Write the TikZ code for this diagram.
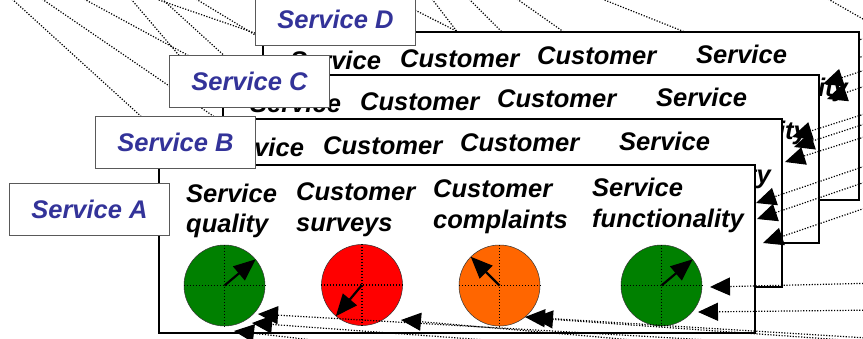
\documentclass[tikz,border=0pt]{standalone}
\usepackage{fontspec}
\setmainfont{Liberation Sans}
\usetikzlibrary{arrows.meta}
\definecolor{lblblue}{RGB}{51,51,153}
\definecolor{dgreen}{RGB}{0,128,0}
\definecolor{dred}{RGB}{255,0,0}
\definecolor{dorange}{RGB}{255,102,0}
\newcommand{\cardfont}{\fontsize{25.5}{30}\selectfont\bfseries\itshape}
% #1 = extra drop of the second text line (used on the cards behind)
\newcommand{\cardcontent}[1]{%
  \node[ctext] (sq1) at (186,202.5) {Service};
  \node[ctext] (sq2) at (186,{232+#1}) {quality};
  \node[ctext] (cs1) at (296,200.5) {Customer};
  \node[ctext] (cs2) at (296,{231+#1}) {surveys};
  \node[ctext] (cc1) at (433,197) {Customer};
  \node[ctext] (cc2) at (433,{228.5+#1}) {complaints};
  \node[ctext] (sf1) at (592,196) {Service};
  \node[ctext] (sf2) at (592,{227+#1}) {functionality};
}
\tikzset{
 card/.style={draw=black, line width=1.4pt, fill=white, minimum width=596pt, minimum height=168pt, anchor=north west, inner sep=0pt, outer sep=0pt},
 ctext/.style={anchor=base west, inner sep=0pt, font=\cardfont},
 lbl/.style={draw=black!65, line width=0.9pt, fill=white, minimum width=160pt, minimum height=52pt, anchor=north west, inner sep=0pt, font=\cardfont, text=lblblue},
 dial/.style={circle, draw=black!80, line width=0.5pt, minimum size=81pt, inner sep=0pt},
 cross/.style={line width=1.1pt, dash pattern=on 1.1pt off 1.9pt},
 needle/.style={line width=2.2pt, -{Triangle[length=22pt,width=18pt]}},
 dots/.style={line width=1.2pt, dash pattern=on 1.2pt off 1.6pt},
 feed/.style={dots, -{Triangle[length=20pt,width=18pt]}},
}
\begin{document}
\begin{tikzpicture}[x=1pt,y=-1pt]
\useasboundingbox (0,0) rectangle (863,338);
\clip (0,0) rectangle (863,338);
% background dotted lines (behind cards)
\coordinate (t1s) at (12,-1);   \coordinate (t1e) at (200,170);
\coordinate (t2s) at (42,-1);   \coordinate (t2e) at (260,148);
\coordinate (t3s) at (84,-1);   \coordinate (t3e) at (215,70);
\coordinate (t4s) at (131,-1);  \coordinate (t4e) at (200,80);
\coordinate (t5s) at (156,-1);  \coordinate (t5e) at (275,40);
\coordinate (t6s) at (162,-1);  \coordinate (t6e) at (240,70);
\coordinate (t7s) at (196,-1);  \coordinate (t7e) at (275,47);
\coordinate (t8s) at (395,0);   \coordinate (t8e) at (480,43);
\coordinate (t9s) at (432,-1);  \coordinate (t9e) at (465,42);
\coordinate (t10s) at (469,-1); \coordinate (t10e) at (512,42);
\coordinate (t11s) at (517,-1); \coordinate (t11e) at (578,42);
\coordinate (t12s) at (602,-1); \coordinate (t12e) at (710,42);
\coordinate (t13s) at (828,-1); \coordinate (t13e) at (870,23);
\coordinate (t14s) at (875,36); \coordinate (t14e) at (850,42);
\coordinate (t15s) at (875,53); \coordinate (t15e) at (850,60);
\foreach \i in {1,...,15} \draw[dots] (t\i s) -- (t\i e);
% cards, back to front
\begin{scope}[shift={(104,-133)}, name prefix=D-]
  \node[card] (card) at (159,165) {};
  \cardcontent{2.5}
\end{scope}
\begin{scope}[shift={(64,-90)}, name prefix=C-]
  \node[card] (card) at (159,165) {};
  \cardcontent{2.5}
\end{scope}
\begin{scope}[shift={(27,-46)}, name prefix=B-]
  \node[card] (card) at (159,165) {};
  \cardcontent{2.5}
\end{scope}
\begin{scope}[name prefix=A-]
  \node[card] (card) at (159,165) {};
  \cardcontent{0}
\end{scope}
% label boxes
\node[lbl] (lD) at (255,-7) {Service D};
\node[lbl] (lC) at (169,55) {Service C};
\node[lbl] (lB) at (95,116) {Service B};
\node[lbl] (lA) at (9,183) {Service A};
% dials
\node[dial, fill=dgreen]  (d1) at (224.5,285.5) {};
\node[dial, fill=dred]    (d2) at (362,285) {};
\node[dial, fill=dorange] (d3) at (499.5,285.5) {};
\node[dial, fill=dgreen]  (d4) at (661.5,285.5) {};
\foreach \d in {d1,d2,d3,d4} {
  \draw[cross] (\d.west) -- (\d.east);
  \draw[cross] (\d.north) -- (\d.south);
}
\draw[needle] (d1.center) -- (d1.40);
\draw[needle] (d2.center) -- (d2.230);
\draw[needle] (d3.center) -- (d3.135);
\draw[needle] (d4.center) -- (d4.40);
% feed arrows: tails and tips
\coordinate (b1t) at (760,343);  \coordinate (b1h) at (258,314);
\coordinate (b2t) at (500,341);  \coordinate (b2h) at (252,323);
\coordinate (b3t) at (330,342);  \coordinate (b3h) at (234,331);
\coordinate (b4t) at (680,344);  \coordinate (b4h) at (401,320);
\coordinate (b5t) at (900,340);  \coordinate (b5h) at (525,317);
\coordinate (b6t) at (900,344);  \coordinate (b6h) at (533,318);
\coordinate (b7t) at (880,283);  \coordinate (b7h) at (710,287);
\coordinate (b8t) at (880,310);  \coordinate (b8h) at (698,312);
\coordinate (r1t) at (880,161);  \coordinate (r1h) at (756,203);
\coordinate (r2t) at (880,177);  \coordinate (r2h) at (757,219);
\coordinate (r3t) at (880,203);  \coordinate (r3h) at (763,243);
\coordinate (r4t) at (880,132);  \coordinate (r4h) at (785,162);
\coordinate (r5t) at (880,109);  \coordinate (r5h) at (792,137);
\coordinate (r6t) at (880,119);  \coordinate (r6h) at (794,147);
\coordinate (r7t) at (880,65);   \coordinate (r7h) at (823,84);
\coordinate (r8t) at (880,81);   \coordinate (r8h) at (827,99);
\foreach \i in {1,...,8} \draw[feed] (b\i t) -- (b\i h);
\foreach \i in {1,...,8} \draw[feed] (r\i t) -- (r\i h);
\end{tikzpicture}
\end{document}
